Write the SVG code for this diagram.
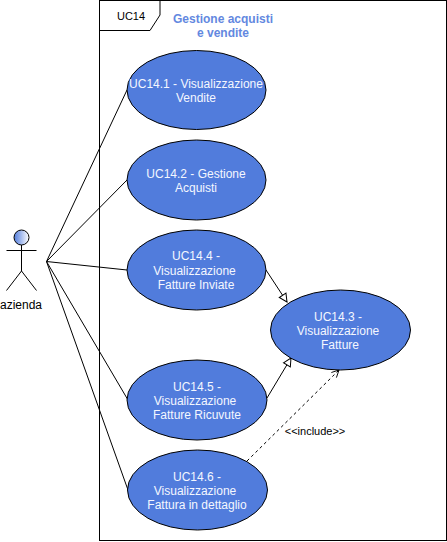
<svg xmlns="http://www.w3.org/2000/svg" width="447" height="542" viewBox="0 0 447 542">
<style>
text{font-family:"Liberation Sans",Arial,sans-serif;font-size:12px;text-anchor:middle}
.u ellipse{fill:#517cdc;stroke:#000;stroke-width:1}
.u text{fill:#f4f7ff}
.l{fill:none;stroke:#000;stroke-width:1}
</style>
<defs>
<linearGradient id="g" x1="0" x2="1" y1="0" y2="0"><stop offset="0" stop-color="#517cdc"/><stop offset="1" stop-color="#ffffff"/></linearGradient>
<marker id="tri" viewBox="0 0 10 10" refX="9" refY="5" markerWidth="10" markerHeight="10" orient="auto" markerUnits="userSpaceOnUse"><path d="M1 1L9 5L1 9Z" fill="#fff" stroke="#000"/></marker>
<marker id="open" viewBox="0 0 10 10" refX="9" refY="5" markerWidth="9" markerHeight="9" orient="auto" markerUnits="userSpaceOnUse"><path d="M1 1L9 5L1 9" fill="none" stroke="#000"/></marker>
</defs>
<g id="boundary">
<rect class="l" x="99.500" y="0.500" width="347" height="540" fill="#fff"/>
<path class="l" d="M99.500 0.500H160V15L150 30.500H99.500Z" fill="#fff"/>
<text x="131" y="20" style="font-size:11px">UC14</text>
<text x="223" y="23" style="font-weight:bold;fill:#6388e0">Gestione acquisti</text>
<text x="223" y="37" style="font-weight:bold;fill:#6388e0">e vendite</text>
</g>
<g id="connectors">
<path class="l" d="M46.500 261.500L127 90"/>
<path class="l" d="M46.500 261.500L127 180"/>
<path class="l" d="M46.500 261.500L127 270"/>
<path class="l" d="M46.500 261.500L128 400"/>
<path class="l" d="M46.500 261.500L128 490"/>
<path class="l" d="M266 270L287 302" marker-end="url(#tri)"/>
<path class="l" d="M267 398L291 358" marker-end="url(#tri)"/>
<path class="l" d="M247 461L339 370" stroke-dasharray="3 3" marker-end="url(#open)"/>
<text x="315" y="435" style="font-size:11px">&lt;&lt;include&gt;&gt;</text>
</g>
<g id="azienda">
<ellipse cx="21.500" cy="237.500" rx="7.500" ry="7.500" fill="url(#g)" stroke="#000"/>
<path class="l" d="M21.500 245V271M6.500 250.500H36.500M21.500 271L6.500 290.500M21.500 271L36.500 290.500"/>
<text x="21" y="309">azienda</text>
</g>
<g id="uc141" class="u"><ellipse cx="196.500" cy="90" rx="69.500" ry="39.500"/><text x="196" y="88">UC14.1 - Visualizzazione</text><text x="196" y="102">Vendite</text></g>
<g id="uc142" class="u"><ellipse cx="196.500" cy="180" rx="69.500" ry="40"/><text x="196" y="178">UC14.2 - Gestione</text><text x="196" y="192">Acquisti</text></g>
<g id="uc144" class="u"><ellipse cx="196.500" cy="270" rx="69.500" ry="40"/><text x="196" y="260">UC14.4 -</text><text x="194.500" y="275">Visualizzazione</text><text x="196" y="289">Fatture Inviate</text></g>
<g id="uc143" class="u"><ellipse cx="340.500" cy="330" rx="70" ry="40"/><text x="338" y="321">UC14.3 -</text><text x="338" y="335">Visualizzazione</text><text x="340" y="349">Fatture</text></g>
<g id="uc145" class="u"><ellipse cx="197" cy="400" rx="70" ry="40"/><text x="197" y="391">UC14.5 -</text><text x="195" y="405">Visualizzazione</text><text x="197" y="419">Fatture Ricuvute</text></g>
<g id="uc146" class="u"><ellipse cx="197.500" cy="490" rx="70" ry="40"/><text x="197" y="481">UC14.6 -</text><text x="195" y="495">Visualizzazione</text><text x="197" y="509">Fattura in dettaglio</text></g>
</svg>
